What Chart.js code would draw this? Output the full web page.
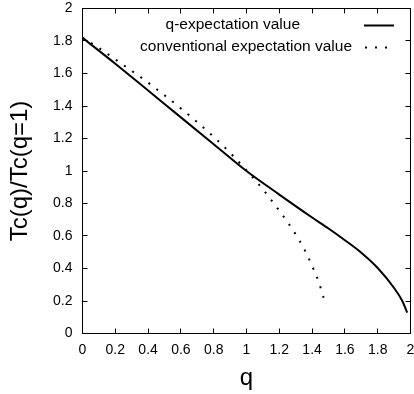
<!DOCTYPE html>
<html><head><meta charset="utf-8">
<script src="https://cdn.jsdelivr.net/npm/chart.js@4.4.0/dist/chart.umd.min.js"></script>
<style>html,body{margin:0;padding:0;background:#fff;}#wrap{width:414px;height:394px;position:relative;}</style>
</head><body><div id="wrap"><canvas id="c" width="414" height="394"></canvas></div>
<script>
const qSolid   = [0, 0.2, 0.4, 0.6, 0.8, 1.0, 1.2, 1.4, 1.5, 1.6, 1.7, 1.8, 1.9, 1.95, 1.98];
const tcSolid  = [1.82, 1.66, 1.495, 1.33, 1.165, 1.0, 0.855, 0.714, 0.646, 0.574, 0.497, 0.403, 0.28, 0.2, 0.128];
const qDotted  = [0, 0.1, 0.2, 0.3, 0.4, 0.5, 0.6, 0.7, 0.8, 0.9, 1.0, 1.1, 1.2, 1.25, 1.3, 1.35, 1.4, 1.44, 1.47];
const tcDotted = [1.82, 1.757, 1.687, 1.616, 1.544, 1.466, 1.385, 1.300, 1.21, 1.112, 1.004, 0.887, 0.755, 0.686, 0.61, 0.523, 0.416, 0.318, 0.22];
const xTickValues = [0, 0.2, 0.4, 0.6, 0.8, 1, 1.2, 1.4, 1.6, 1.8, 2];
const xTickLabels = ['0','0.2','0.4','0.6','0.8','1','1.2','1.4','1.6','1.8','2'];
const yTickValues = [0, 0.2, 0.4, 0.6, 0.8, 1, 1.2, 1.4, 1.6, 1.8, 2];
const yTickLabels = ['0','0.2','0.4','0.6','0.8','1','1.2','1.4','1.6','1.8','2'];
const seriesNames = ['q-expectation value', 'conventional expectation value'];
const xTitle = 'q';
const yTitle = 'Tc(q)/Tc(q=1)';

const FONT = "'Liberation Sans', Arial, sans-serif";

function pts(xs, ys){ return xs.map((x,i)=>({x:x, y:ys[i]})); }
function labelFor(vals, labels, v){
  for (let i=0;i<vals.length;i++) if (Math.abs(vals[i]-v)<1e-9) return labels[i];
  return '';
}

const framePlugin = {
  id: 'frame',
  afterDatasetsDraw(chart){
    const {ctx, chartArea:a, scales:{x, y}} = chart;
    ctx.save();
    ctx.strokeStyle = '#000';
    ctx.lineWidth = 1;
    ctx.setLineDash([]);
    ctx.strokeRect(a.left, a.top, a.right - a.left, a.bottom - a.top);
    const tl = 5;
    ctx.beginPath();
    xTickValues.forEach(v => {
      const px = Math.round(x.getPixelForValue(v) - 0.5) + 0.5;
      ctx.moveTo(px, a.bottom); ctx.lineTo(px, a.bottom - tl);
      ctx.moveTo(px, a.top); ctx.lineTo(px, a.top + tl);
    });
    yTickValues.forEach(v => {
      const py = Math.round(y.getPixelForValue(v) - 0.5) + 0.5;
      ctx.moveTo(a.left, py); ctx.lineTo(a.left + tl, py);
      ctx.moveTo(a.right, py); ctx.lineTo(a.right - tl, py);
    });
    ctx.stroke();

    // legend
    ctx.fillStyle = '#000';
    ctx.font = '15.5px ' + FONT;
    ctx.textBaseline = 'middle';
    ctx.textAlign = 'right';
    const rows = [25, 47];
    ctx.fillText(seriesNames[0], 300, rows[0]);
    ctx.fillText(seriesNames[1], 352, rows[1]);
    ctx.lineWidth = 2;
    ctx.beginPath();
    ctx.moveTo(364, rows[0] + 0.5); ctx.lineTo(394, rows[0] + 0.5);
    ctx.stroke();
    ctx.setLineDash([2, 8]);
    ctx.beginPath();
    ctx.moveTo(365, rows[1] + 0.5); ctx.lineTo(395, rows[1] + 0.5);
    ctx.stroke();
    ctx.restore();
  }
};

new Chart(document.getElementById('c'), {
  type: 'scatter',
  data: {
    datasets: [
      {
        label: seriesNames[0],
        data: pts(qSolid, tcSolid),
        showLine: true,
        borderColor: '#000',
        borderWidth: 2,
        pointRadius: 0,
        cubicInterpolationMode: 'monotone',
        fill: false
      },
      {
        label: seriesNames[1],
        data: pts(qDotted, tcDotted),
        showLine: true,
        borderColor: '#000',
        borderWidth: 2,
        borderDash: [2, 8],
        borderCapStyle: 'butt',
        pointRadius: 0,
        cubicInterpolationMode: 'monotone',
        fill: false
      }
    ]
  },
  options: {
    responsive: false,
    animation: false,
    devicePixelRatio: 1,
    layout: { padding: { top: 8.5, right: 3.5, left: 0, bottom: 0 } },
    plugins: { legend: { display: false }, tooltip: { enabled: false } },
    scales: {
      x: {
        type: 'linear',
        min: 0, max: 2,
        afterBuildTicks: s => { s.ticks = xTickValues.map(v => ({value: v})); },
        afterFit: s => { s.height = 60.5; s.paddingLeft = 0; s.paddingRight = 0; },
        grid: { display: false, drawTicks: false },
        border: { display: false },
        ticks: {
          color: '#000',
          font: { family: FONT, size: 14 },
          padding: 8,
          maxRotation: 0,
          autoSkip: false,
          callback: v => labelFor(xTickValues, xTickLabels, v)
        },
        title: {
          display: true, text: xTitle, color: '#000',
          font: { family: FONT, size: 24 },
          padding: { top: 0, bottom: 1 }
        }
      },
      y: {
        type: 'linear',
        min: 0, max: 2,
        afterBuildTicks: s => { s.ticks = yTickValues.map(v => ({value: v})); },
        afterFit: s => { s.width = 82.5; s.paddingTop = 0; s.paddingBottom = 0; },
        grid: { display: false, drawTicks: false },
        border: { display: false },
        ticks: {
          color: '#000',
          font: { family: FONT, size: 14 },
          padding: 10,
          autoSkip: false,
          callback: v => labelFor(yTickValues, yTickLabels, v)
        },
        title: {
          display: true, text: yTitle, color: '#000',
          font: { family: FONT, size: 24 },
          padding: { top: 6, bottom: 0 }
        }
      }
    }
  },
  plugins: [framePlugin]
});
</script>
</body></html>
